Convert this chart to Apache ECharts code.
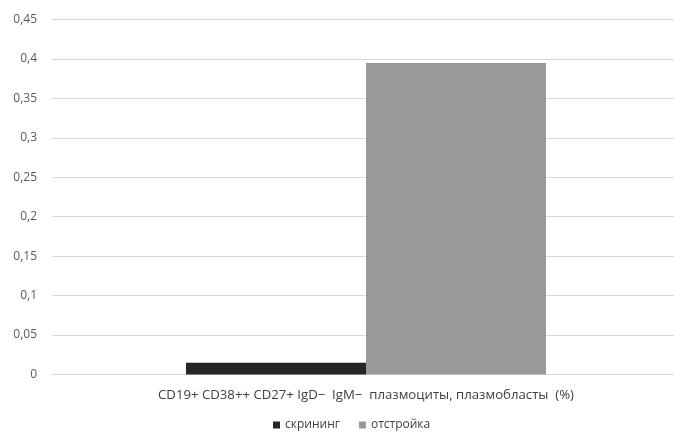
<!DOCTYPE html>
<html><head><meta charset="utf-8">
<script src="https://cdn.jsdelivr.net/npm/echarts@6/dist/echarts.min.js"></script>
<style>html,body{margin:0;padding:0;background:#fff}#c{width:674px;height:432px}</style>
</head><body><div id="c"></div>
<script>
const categories = ["CD19+ CD38++ CD27+ IgD\u2212  IgM\u2212  плазмоциты, плазмобласты  (%)"];
const seriesNames = ["скрининг", "отстройка"];
const screening = [0.015];
const tuning = [0.395];
const yTicks = {min: 0, max: 0.45, interval: 0.05};

const chart = echarts.init(document.getElementById('c'));
const font = "'Open Sans', sans-serif";
chart.setOption({
  animation: false,
  textStyle: {fontFamily: font},
  grid: {left: 52, top: 19.5, width: 628, height: 355, containLabel: false, outerBoundsMode: 'none'},
  legend: {
    bottom: 1, left: 273, padding: 0, itemWidth: 7, itemHeight: 7, itemGap: 19,
    icon: 'rect',
    textStyle: {fontSize: 12, color: '#404040', fontFamily: font},
    data: seriesNames
  },
  xAxis: {
    type: 'category', data: categories,
    axisLine: {lineStyle: {color: '#d9d9d9'}},
    axisTick: {show: false},
    axisLabel: {fontSize: 13.2, color: '#404040', margin: 14, fontFamily: font}
  },
  yAxis: {
    type: 'value', min: yTicks.min, max: yTicks.max, interval: yTicks.interval,
    axisLine: {show: false}, axisTick: {show: false},
    splitLine: {lineStyle: {color: '#d9d9d9'}},
    axisLabel: {
      fontSize: 12, color: '#595959', margin: 15, fontFamily: font,
      formatter: v => String(Math.round(v * 100) / 100).replace('.', ',')
    }
  },
  series: [
    {name: seriesNames[0], type: 'bar', data: screening, barWidth: 180, barGap: '0%',
     itemStyle: {color: '#262626'}},
    {name: seriesNames[1], type: 'bar', data: tuning, barWidth: 180, barGap: '0%',
     itemStyle: {color: '#999999'}}
  ]
});
</script></body></html>
